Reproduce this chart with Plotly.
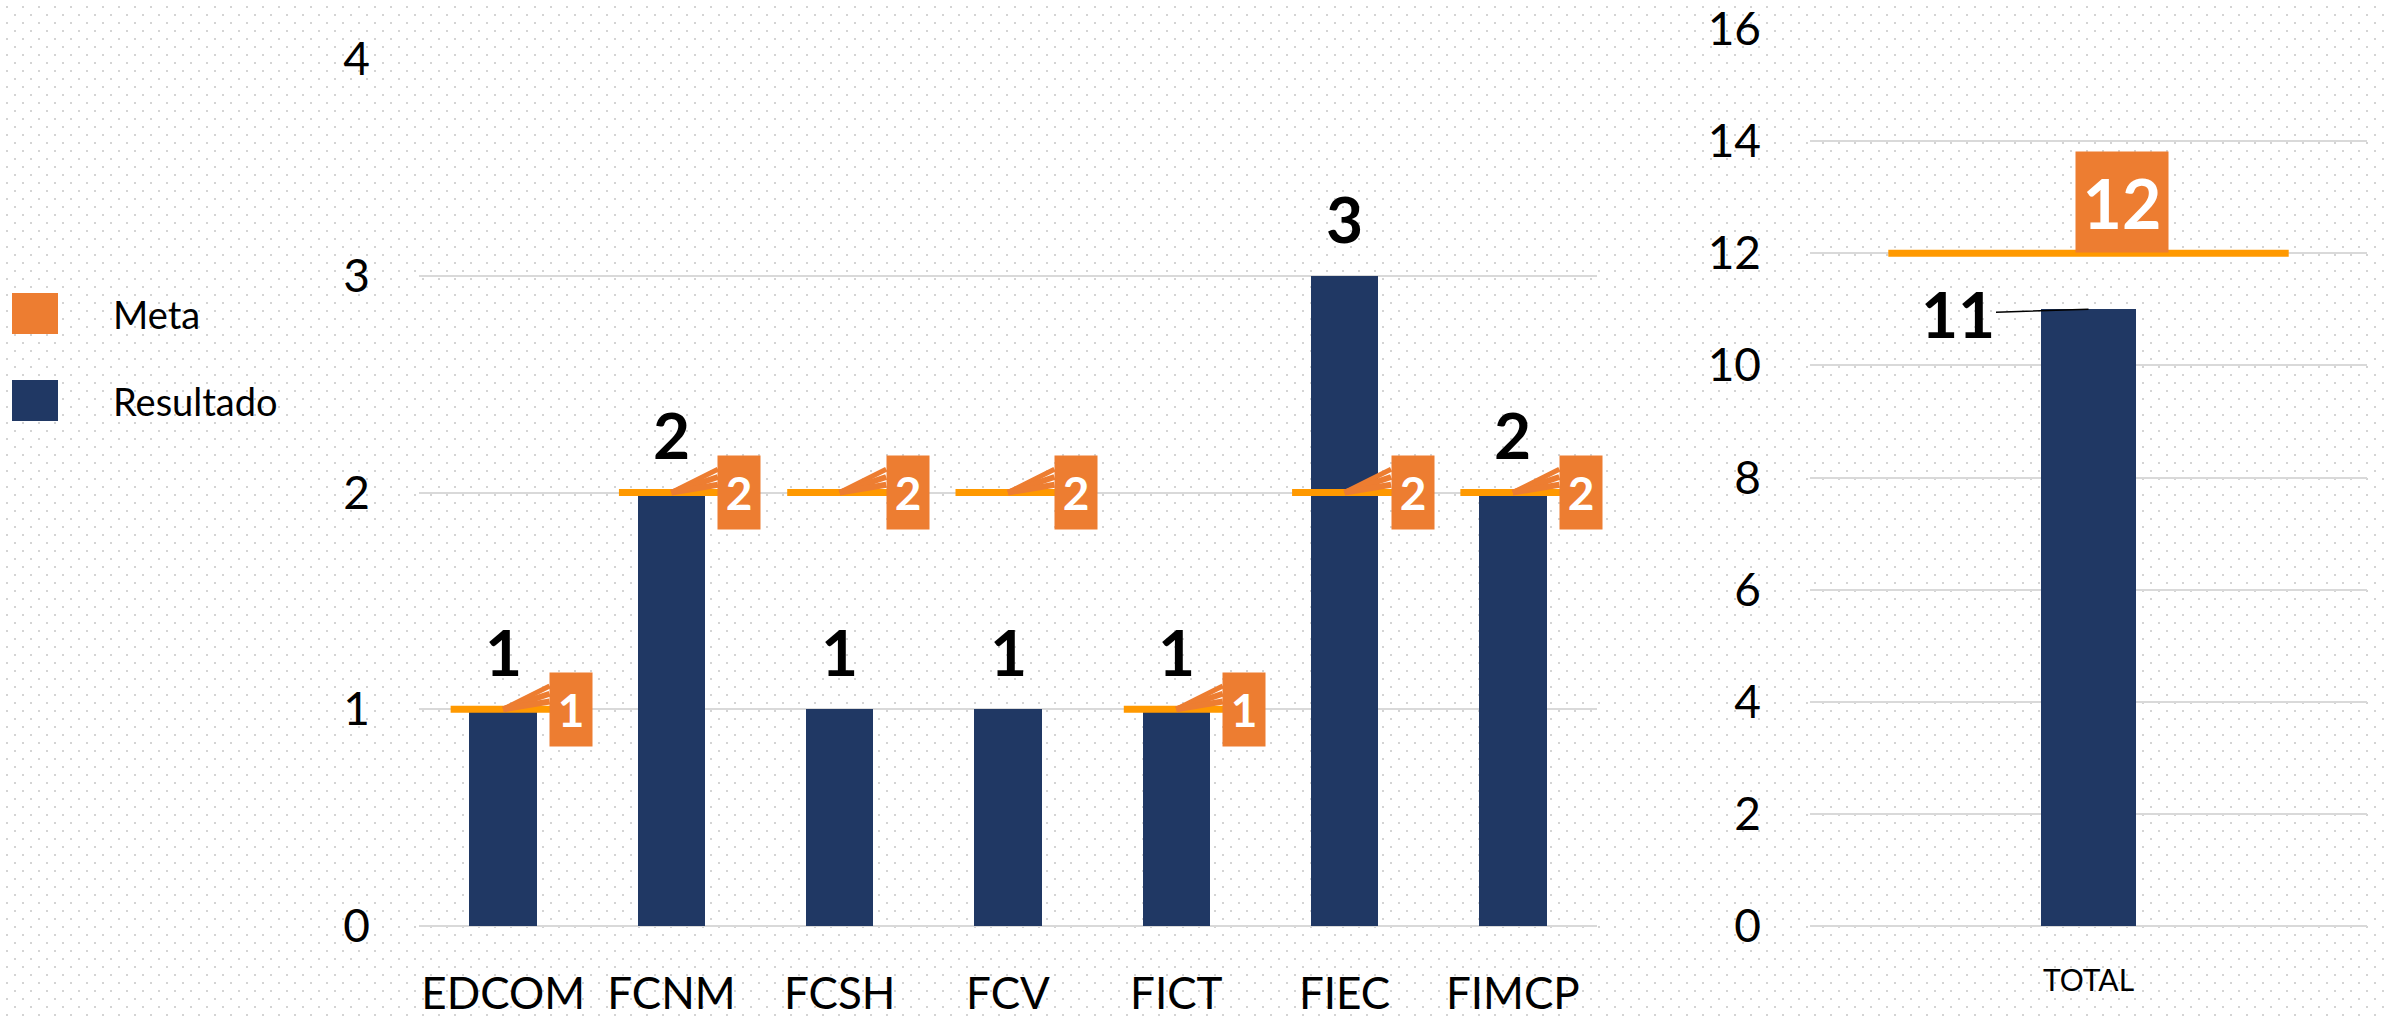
import base64
import plotly.graph_objects as go

# Datos
facultades = ['EDCOM', 'FCNM', 'FCSH', 'FCV', 'FICT', 'FIEC', 'FIMCP']
meta = [1, 2, 2, 2, 1, 2, 2]
resultado = [1, 2, 1, 1, 1, 3, 2]
total_cat = ['TOTAL']
total_meta = [12]
total_resultado = [11]

W, H = 2384, 1017
AZUL = '#203864'
NARANJA = '#ED7D31'
LINEA_META = '#FF9900'
GRID = '#d9d9d9'
FUENTE = 'Lato'


def px_x(p):
    return p / W


def px_y(p):
    return 1 - p / H


# fondo punteado (patron svg)
svg = (
    f"<svg xmlns='http://www.w3.org/2000/svg' width='{W}' height='{H}'>"
    "<defs><pattern id='p' width='16' height='16' patternUnits='userSpaceOnUse'>"
    "<rect x='6' y='6' width='2' height='2' fill='#d4d4d4'/>"
    "<rect x='14' y='14' width='2' height='2' fill='#d4d4d4'/>"
    "</pattern></defs><rect width='100%' height='100%' fill='url(#p)'/></svg>"
)
fondo = 'data:image/svg+xml;base64,' + base64.b64encode(svg.encode()).decode()

fig = go.Figure()

# Grafico izquierdo
fig.add_trace(go.Bar(
    x=facultades, y=resultado, width=0.40,
    marker=dict(color=AZUL, line=dict(width=0)),
    showlegend=False, hoverinfo='skip',
    xaxis='x', yaxis='y'
))
fig.add_trace(go.Scatter(
    x=facultades, y=meta, mode='markers',
    marker=dict(symbol='line-ew', size=75, line=dict(width=7, color=LINEA_META)),
    showlegend=False, hoverinfo='skip',
    xaxis='x', yaxis='y'
))

# Grafico derecho
fig.add_trace(go.Bar(
    x=total_cat, y=total_resultado, width=0.17,
    marker=dict(color=AZUL, line=dict(width=0)),
    showlegend=False, hoverinfo='skip',
    xaxis='x2', yaxis='y2'
))
fig.add_trace(go.Scatter(
    x=total_cat, y=total_meta, mode='markers',
    marker=dict(symbol='line-ew', size=286, line=dict(width=7, color=LINEA_META)),
    showlegend=False, hoverinfo='skip',
    xaxis='x2', yaxis='y2'
))

anots = []
for cat, m, r in zip(facultades, meta, resultado):
    # puntero de la etiqueta (cuña)
    for dy, ancho in [(-24, 5), (-16, 6), (-8, 6)]:
        anots.append(dict(
            x=cat, y=m, xref='x', yref='y', text='', showarrow=True,
            ax=48, ay=dy, arrowhead=0, arrowwidth=ancho, arrowcolor=NARANJA, standoff=0
        ))
    # etiqueta meta
    anots.append(dict(
        x=cat, y=m, xref='x', yref='y', text=f'<b>{m}</b>', showarrow=False,
        xshift=68, bgcolor=NARANJA, width=42, height=73, borderpad=0,
        font=dict(family=FUENTE, size=46, color='white')
    ))
    # etiqueta resultado
    anots.append(dict(
        x=cat, y=r, xref='x', yref='y', text=f'<b>{r}</b>', showarrow=False,
        yanchor='bottom', yshift=17,
        font=dict(family=FUENTE, size=64, color='black')
    ))

anots.append(dict(
    x=total_cat[0], y=total_meta[0], xref='x2', yref='y2', text=f'<b>{total_meta[0]}</b>',
    showarrow=False, xshift=33, yshift=51, bgcolor=NARANJA, width=92, height=100,
    borderpad=0, font=dict(family=FUENTE, size=68, color='white')
))
anots.append(dict(
    x=total_cat[0], y=total_resultado[0], xref='x2', yref='y2', text=f'<b>{total_resultado[0]}</b>',
    showarrow=True, ax=-131, ay=4, arrowhead=0, arrowwidth=1.5, arrowcolor='black', standoff=0,
    font=dict(family=FUENTE, size=64, color='black')
))

# Leyenda
leyenda = [('Meta', NARANJA, 293, 334), ('Resultado', AZUL, 380, 421)]
shapes = []
for nombre, color, y0, y1 in leyenda:
    shapes.append(dict(
        type='rect', xref='paper', yref='paper',
        x0=px_x(12), x1=px_x(58), y0=px_y(y1), y1=px_y(y0),
        fillcolor=color, line=dict(width=0)
    ))
    anots.append(dict(
        x=px_x(111), y=px_y((y0 + y1) / 2), xref='paper', yref='paper',
        text=nombre, showarrow=False, xanchor='left', yanchor='middle',
        font=dict(family=FUENTE, size=38, color='black')
    ))

eje_y = dict(
    showgrid=True, gridcolor=GRID, gridwidth=2,
    zeroline=True, zerolinecolor=GRID, zerolinewidth=2,
    showline=False, ticks='', ticklabelstandoff=48, automargin=False,
    tickfont=dict(family=FUENTE, size=46, color='black')
)

fig.update_layout(
    width=W, height=H,
    margin=dict(l=0, r=0, t=0, b=0, autoexpand=False),
    paper_bgcolor='white', plot_bgcolor='rgba(0,0,0,0)',
    font=dict(family=FUENTE, color='black'),
    bargap=0,
    xaxis=dict(
        domain=[px_x(419), px_x(1597)], anchor='y', type='category',
        range=[-0.5, len(facultades) - 0.5],
        showgrid=False, showline=False, ticks='', ticklabelstandoff=38, automargin=False,
        tickfont=dict(family=FUENTE, size=44, color='black')
    ),
    yaxis=dict(domain=[1 - 926 / H, 1 - 59 / H], anchor='x', range=[0, 4], dtick=1, **eje_y),
    xaxis2=dict(
        domain=[px_x(1810), px_x(2367)], anchor='y2', type='category',
        range=[-0.5, 0.5],
        showgrid=False, showline=False, ticks='', ticklabelstandoff=34, automargin=False,
        tickfont=dict(family=FUENTE, size=30, color='black')
    ),
    yaxis2=dict(domain=[1 - 926 / H, 1 - 29 / H], anchor='x2', range=[0, 16], dtick=2, **eje_y),
    annotations=anots,
    shapes=shapes,
    images=[dict(
        source=fondo, xref='paper', yref='paper', x=0, y=1, sizex=1, sizey=1,
        xanchor='left', yanchor='top', sizing='stretch', layer='below'
    )],
)

fig.write_html('out.html', config={'displayModeBar': False},
               post_script="document.body.style.margin='0';")
